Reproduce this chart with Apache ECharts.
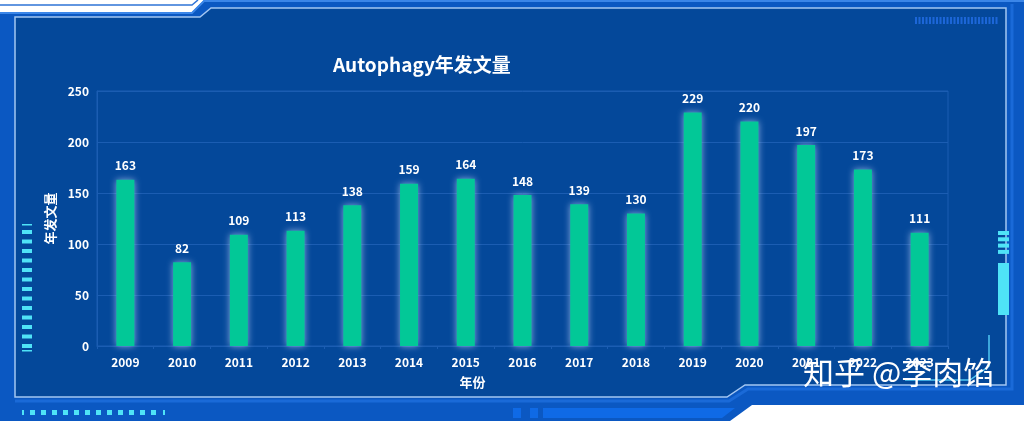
<!DOCTYPE html>
<html>
<head>
<meta charset="utf-8">
<script src="https://cdn.jsdelivr.net/npm/echarts@6/dist/echarts.min.js"></script>
<style>
html,body{margin:0;padding:0;background:#ffffff;}
#chart{width:1024px;height:421px;}
</style>
</head>
<body>
<div id="chart"></div>
<script>
const years = ['2009','2010','2011','2012','2013','2014','2015','2016','2017','2018','2019','2020','2021','2022','2023'];
const counts = [163,82,109,113,138,159,164,148,139,130,229,220,197,173,111];
const yTicks = {min:0, max:250, interval:50};
const titleText = 'Autophagy年发文量';
const yName = '年发文量';
const xName = '年份';
const watermark = '知乎 @李肉馅';

const FONT = '"Noto Sans CJK SC","Noto Sans",sans-serif';
const chart = echarts.init(document.getElementById('chart'), null, {renderer:'canvas'});

const graphics = [];
// outer frame
graphics.push({type:'polygon', z:-20, silent:true,
  shape:{points:[[0,12],[192,12],[204,0],[1024,0],[1024,405],[752,405],[730,421],[0,421]]},
  style:{fill:'#0b58c2'}});
// thin line on white top-left
graphics.push({type:'polyline', z:-20, silent:true,
  shape:{points:[[0,5],[192,5],[198,0]]}, style:{stroke:'#2f74d6', lineWidth:1.5, fill:null}});
// top edge highlight
graphics.push({type:'polyline', z:-19, silent:true,
  shape:{points:[[0,13],[192,13],[204,1],[1024,1]]}, style:{stroke:'#3b86e8', lineWidth:2, fill:null}});
// inner panel
const innerPts = [[15,17],[200,17],[211,8],[1006,8],[1006,385],[745,385],[727,397],[15,397]];
graphics.push({type:'polygon', z:-18, silent:true,
  shape:{points:innerPts}, style:{fill:'#04489a', stroke:'#a3c6f2', lineWidth:1.5}});
// bottom band lighter strip
graphics.push({type:'polyline', z:-17, silent:true,
  shape:{points:[[15,401],[729,401],[748,389],[1012,389],[1012,4]]}, style:{stroke:'#1a6ad8', lineWidth:3, fill:null}});
// bottom bright rects
graphics.push({type:'rect', z:-16, silent:true, shape:{x:513,y:408,width:8,height:10}, style:{fill:'#0f6ae6'}});
graphics.push({type:'rect', z:-16, silent:true, shape:{x:530,y:408,width:8,height:10}, style:{fill:'#0f6ae6'}});
graphics.push({type:'polygon', z:-16, silent:true, shape:{points:[[543,408],[735,408],[722,418],[543,418]]}, style:{fill:'#0f6ae6'}});
// top-right stripes
for (let i=0;i<24;i++){
  graphics.push({type:'rect', z:-16, silent:true, shape:{x:915+3.5*i,y:17,width:2,height:7}, style:{fill:'#1c66d8'}});
}
// left cyan bars
graphics.push({type:'rect', z:-16, silent:true, shape:{x:22,y:224,width:10,height:1.5}, style:{fill:'#4fe3f7'}});
for (let i=0;i<13;i++){
  graphics.push({type:'rect', z:-16, silent:true, shape:{x:22,y:230+9.5*i,width:10,height:4}, style:{fill:'#4fe3f7'}});
}
graphics.push({type:'rect', z:-16, silent:true, shape:{x:22,y:350,width:10,height:1.5}, style:{fill:'#4fe3f7'}});
// bottom cyan squares
graphics.push({type:'rect', z:-16, silent:true, shape:{x:22,y:410,width:2,height:5}, style:{fill:'#4fe3f7'}});
for (let i=0;i<12;i++){
  graphics.push({type:'rect', z:-16, silent:true, shape:{x:30+11*i,y:410,width:5,height:5}, style:{fill:'#4fe3f7'}});
}
graphics.push({type:'rect', z:-16, silent:true, shape:{x:163,y:410,width:2,height:5}, style:{fill:'#4fe3f7'}});
// right cyan element
for (let i=0;i<4;i++){
  graphics.push({type:'rect', z:-16, silent:true, shape:{x:998,y:231+6.3*i,width:11,height:4}, style:{fill:'#4fe3f7'}});
}
graphics.push({type:'rect', z:-16, silent:true, shape:{x:998,y:263,width:11,height:52}, style:{fill:'#4fe3f7'}});
// bottom-right cyan line
graphics.push({type:'polyline', z:-16, silent:true,
  shape:{points:[[989,335],[989,366],[970,380],[905,380]]}, style:{stroke:'#4fc6f2', lineWidth:1.5, fill:null}});
// watermark
graphics.push({type:'text', z:100, silent:true, left:803, top:357,
  style:{text:watermark, fill:'#ffffff', font:'31px '+FONT, shadowColor:'rgba(0,0,0,0.45)', shadowBlur:3, shadowOffsetX:1, shadowOffsetY:1}});

const option = {
  backgroundColor:'#ffffff',
  animation:false,
  title:{text:titleText, left:328, top:50,
    textStyle:{color:'#ffffff', fontSize:19, fontWeight:'bold', fontFamily:FONT}},
  grid:{left:97, right:76, top:91, bottom:75, show:true, borderColor:'#1b5db2', borderWidth:1},
  xAxis:{type:'category', data:years, name:xName, nameLocation:'middle', nameGap:30,
    nameTextStyle:{color:'#ffffff', fontSize:13, fontWeight:'bold', fontFamily:FONT, padding:[0,100,0,0]},
    axisLine:{show:true, lineStyle:{color:'#1b5db2'}},
    axisTick:{show:true, length:3, lineStyle:{color:'#1b5db2'}},
    axisLabel:{color:'#ffffff', fontSize:12, fontWeight:'bold', fontFamily:FONT, margin:10},
    splitLine:{show:false}},
  yAxis:{type:'value', min:yTicks.min, max:yTicks.max, interval:yTicks.interval,
    name:yName, nameLocation:'middle', nameGap:35, nameRotate:90,
    nameTextStyle:{color:'#ffffff', fontSize:13, fontWeight:'bold', fontFamily:FONT},
    axisLine:{show:true, lineStyle:{color:'#1b5db2'}},
    axisTick:{show:false},
    axisLabel:{color:'#ffffff', fontSize:12, fontWeight:'bold', fontFamily:FONT, margin:8},
    splitLine:{show:true, lineStyle:{color:'#1b5db2', width:1}}},
  series:[{type:'bar', data:counts, barWidth:18,
    itemStyle:{color:'#02c897', shadowColor:'rgba(170,195,240,0.8)', shadowBlur:7},
    label:{show:true, position:'top', distance:8, color:'#ffffff', fontSize:12, fontWeight:'bold', fontFamily:FONT}}],
  graphic:graphics
};
chart.setOption(option);
</script>
</body>
</html>
